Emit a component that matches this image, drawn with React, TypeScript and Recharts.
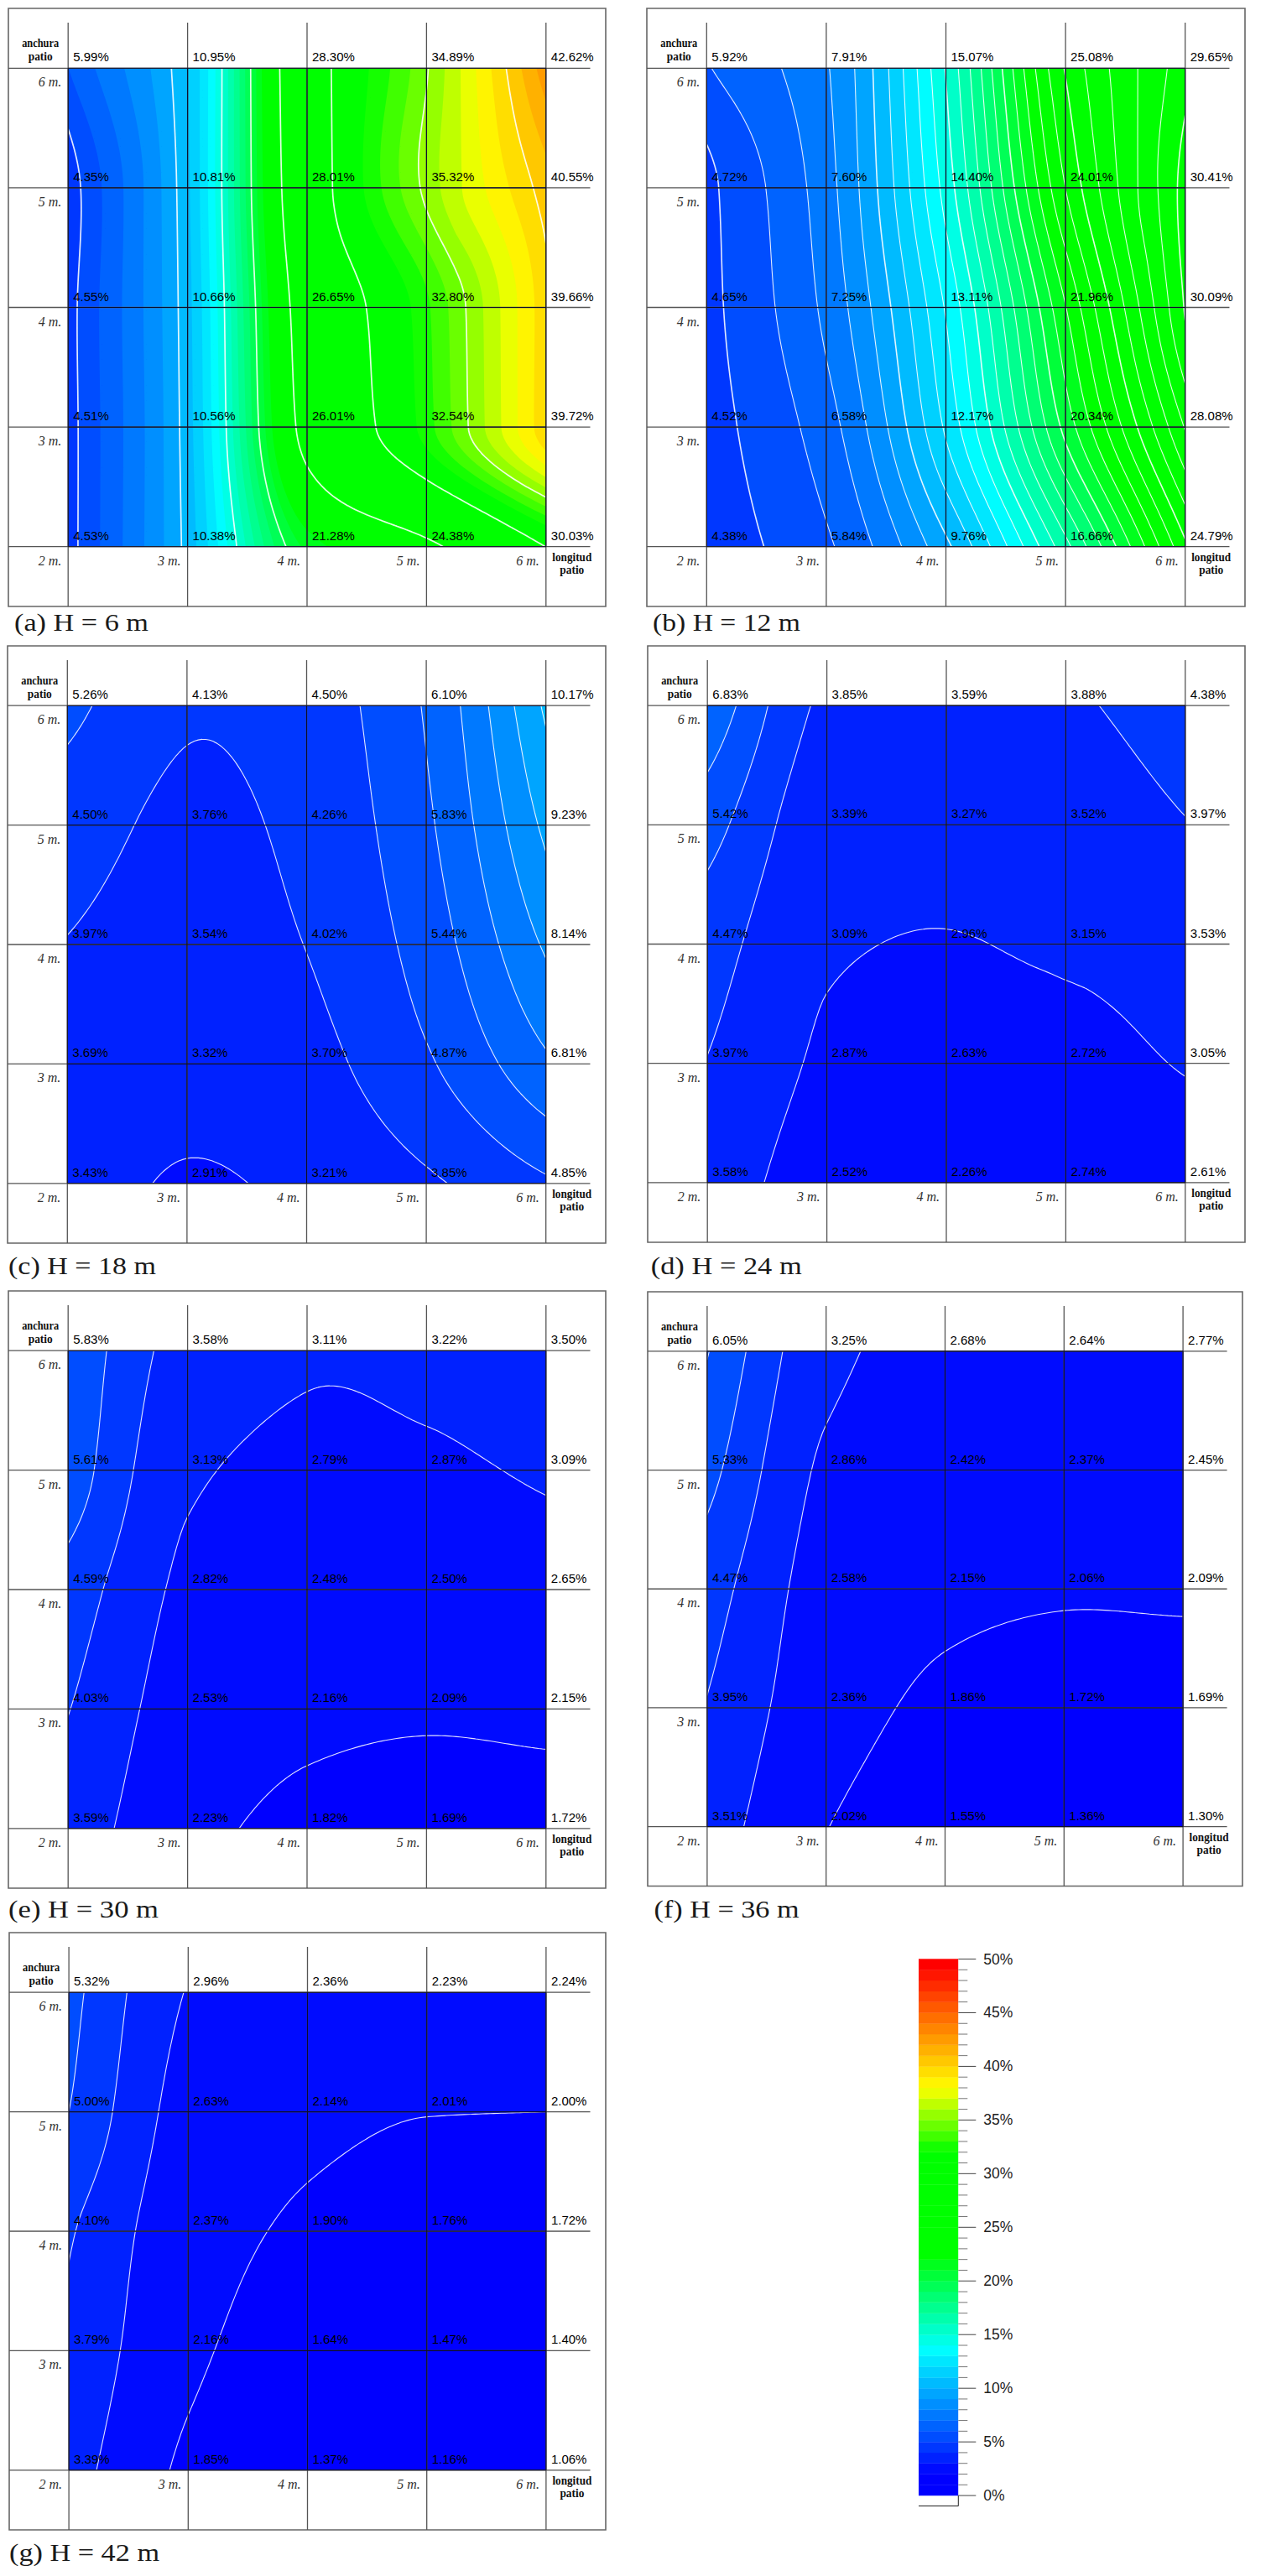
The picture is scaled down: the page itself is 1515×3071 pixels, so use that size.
import { useMemo } from "react";
import {
  Bar,
  BarChart,
  ReferenceArea,
  ReferenceLine,
  Scatter,
  ScatterChart,
  XAxis,
  YAxis,
  useXAxisScale,
  useYAxisScale,
} from "recharts";

// longitud patio (x) and anchura patio (y), in metres
const longitudes = [2, 3, 4, 5, 6];
const anchuras = [6, 5, 4, 3, 2];
const scaleTicks = Array.from({ length: 51 }, (_, i) => i);
const captions = [
  "(a) H = 6 m",
  "(b) H = 12 m",
  "(c) H = 18 m",
  "(d) H = 24 m",
  "(e) H = 30 m",
  "(f) H = 36 m",
  "(g) H = 42 m",
];

// one row per anchura, top row first
const h6 = [
  [5.99, 10.95, 28.3, 34.89, 42.62],
  [4.35, 10.81, 28.01, 35.32, 40.55],
  [4.55, 10.66, 26.65, 32.8, 39.66],
  [4.51, 10.56, 26.01, 32.54, 39.72],
  [4.53, 10.38, 21.28, 24.38, 30.03],
];
const h12 = [
  [5.92, 7.91, 15.07, 25.08, 29.65],
  [4.72, 7.6, 14.4, 24.01, 30.41],
  [4.65, 7.25, 13.11, 21.96, 30.09],
  [4.52, 6.58, 12.17, 20.34, 28.08],
  [4.38, 5.84, 9.76, 16.66, 24.79],
];
const h18 = [
  [5.26, 4.13, 4.5, 6.1, 10.17],
  [4.5, 3.76, 4.26, 5.83, 9.23],
  [3.97, 3.54, 4.02, 5.44, 8.14],
  [3.69, 3.32, 3.7, 4.87, 6.81],
  [3.43, 2.91, 3.21, 3.85, 4.85],
];
const h24 = [
  [6.83, 3.85, 3.59, 3.88, 4.38],
  [5.42, 3.39, 3.27, 3.52, 3.97],
  [4.47, 3.09, 2.96, 3.15, 3.53],
  [3.97, 2.87, 2.63, 2.72, 3.05],
  [3.58, 2.52, 2.26, 2.74, 2.61],
];
const h30 = [
  [5.83, 3.58, 3.11, 3.22, 3.5],
  [5.61, 3.13, 2.79, 2.87, 3.09],
  [4.59, 2.82, 2.48, 2.5, 2.65],
  [4.03, 2.53, 2.16, 2.09, 2.15],
  [3.59, 2.23, 1.82, 1.69, 1.72],
];
const h36 = [
  [6.05, 3.25, 2.68, 2.64, 2.77],
  [5.33, 2.86, 2.42, 2.37, 2.45],
  [4.47, 2.58, 2.15, 2.06, 2.09],
  [3.95, 2.36, 1.86, 1.72, 1.69],
  [3.51, 2.02, 1.55, 1.36, 1.3],
];
const h42 = [
  [5.32, 2.96, 2.36, 2.23, 2.24],
  [5.0, 2.63, 2.14, 2.01, 2.0],
  [4.1, 2.37, 1.9, 1.76, 1.72],
  [3.79, 2.16, 1.64, 1.47, 1.4],
  [3.39, 1.85, 1.37, 1.16, 1.06],
];
const series = [h6, h12, h18, h24, h30, h36, h42];

// page layout of each panel box: left, top, width, height
const boxes = [
  [10, 10, 712, 713],
  [771.4, 10, 713, 713],
  [9, 770, 713, 712],
  [772.4, 770, 712, 711],
  [10, 1539, 712, 712],
  [772.4, 1540, 709, 708.5],
  [10.8, 2304, 711, 712],
];
// caption: left, baseline, width
const captionSpots = [
  [17, 752, 160],
  [778, 752, 176],
  [10, 1519, 176],
  [775.7, 1519, 180],
  [10, 2286, 179],
  [779.5, 2286, 173],
  [11, 3053, 179],
];
const contourSteps = [5, 1, 1, 1, 1, 1, 1];
const majorWidths = [1.7, 1.6, 1.1, 1.1, 1.1, 1.1, 1.1];

const DOMAIN: [number, number] = [1.5, 6.5];
const CHART_PAD = 2;
const SAMPLES = 128;

const colourStops: [number, number[]][] = [
  [0, [0, 0, 255]],
  [2, [0, 0, 255]],
  [13.6, [0, 255, 255]],
  [22.5, [0, 255, 0]],
  [32, [0, 255, 0]],
  [38, [255, 255, 0]],
  [49.5, [255, 0, 0]],
  [50, [255, 0, 0]],
];

function bandColour(band: number) {
  const v = Math.max(0, Math.min(50, band + 0.5));
  let k = 0;
  while (k < colourStops.length - 2 && v > colourStops[k + 1][0]) k += 1;
  const [v0, c0] = colourStops[k];
  const [v1, c1] = colourStops[k + 1];
  const t = (v - v0) / (v1 - v0);
  const rgb = c0.map((c, i) => Math.round(c + (c1[i] - c) * t));
  return `rgb(${rgb.join(",")})`;
}

// slopes for a cubic through evenly spaced values, held back so it barely overshoots the readings
function limitedSlopes(values: number[]) {
  const n = values.length;
  const secant = values.slice(1).map((v, i) => v - values[i]);
  const slopes = new Array(n).fill(0);
  for (let i = 1; i < n - 1; i += 1) {
    const a = secant[i - 1];
    const b = secant[i];
    if (a * b > 0) {
      slopes[i] = (2 * a * b) / (a + b);
    } else {
      const mid = (a + b) / 2;
      slopes[i] = Math.sign(mid) * Math.min(Math.abs(mid), 2 * Math.min(Math.abs(a), Math.abs(b)));
    }
  }
  slopes[0] = secant[0];
  slopes[n - 1] = secant[n - 2];
  return slopes;
}

function curveAt(values: number[], slopes: number[], t: number) {
  const i = Math.min(values.length - 2, Math.floor(t));
  const s = t - i;
  const s2 = s * s;
  const s3 = s2 * s;
  return (
    (2 * s3 - 3 * s2 + 1) * values[i] +
    (s3 - 2 * s2 + s) * slopes[i] +
    (-2 * s3 + 3 * s2) * values[i + 1] +
    (s3 - s2) * slopes[i + 1]
  );
}

// smooth surface through the 25 readings; grid[j][i], j=0 is the top edge
function sampleSurface(rows: number[][]) {
  const rowSlopes = rows.map(limitedSlopes);
  const grid: number[][] = Array.from({ length: SAMPLES + 1 }, () => []);
  for (let i = 0; i <= SAMPLES; i += 1) {
    const t = (4 * i) / SAMPLES;
    const column = rows.map((row, r) => curveAt(row, rowSlopes[r], t));
    const columnSlopes = limitedSlopes(column);
    for (let j = 0; j <= SAMPLES; j += 1) {
      grid[j][i] = curveAt(column, columnSlopes, (4 * j) / SAMPLES);
    }
  }
  return grid;
}

function buildContours(grid: number[][], level: number, px: number[], py: number[]) {
  let fill = "";
  let line = "";
  const p = (x: number, y: number) => `${x.toFixed(2)} ${y.toFixed(2)}`;
  for (let j = 0; j < SAMPLES; j += 1) {
    let runStart = -1;
    const flush = (end: number) => {
      if (runStart < 0) return;
      fill += `M${p(px[runStart], py[j])}L${p(px[end], py[j])}L${p(px[end], py[j + 1])}L${p(px[runStart], py[j + 1])}Z`;
      runStart = -1;
    };
    for (let i = 0; i < SAMPLES; i += 1) {
      const corners = [
        [px[i], py[j], grid[j][i]],
        [px[i + 1], py[j], grid[j][i + 1]],
        [px[i + 1], py[j + 1], grid[j + 1][i + 1]],
        [px[i], py[j + 1], grid[j + 1][i]],
      ];
      const inside = corners.filter((c) => c[2] >= level).length;
      if (inside === 4) {
        if (runStart < 0) runStart = i;
        continue;
      }
      flush(i);
      if (inside === 0) continue;
      const poly: number[][] = [];
      const crossings: number[][] = [];
      corners.forEach((a, k) => {
        const b = corners[(k + 1) % 4];
        if (a[2] >= level) poly.push(a);
        if (a[2] >= level !== b[2] >= level) {
          const t = (level - a[2]) / (b[2] - a[2]);
          const cross = [a[0] + (b[0] - a[0]) * t, a[1] + (b[1] - a[1]) * t];
          poly.push(cross);
          crossings.push(cross);
        }
      });
      fill += `M${poly.map((q) => p(q[0], q[1])).join("L")}Z`;
      for (let k = 0; k + 1 < crossings.length; k += 2) {
        line += `M${p(crossings[k][0], crossings[k][1])}L${p(crossings[k + 1][0], crossings[k + 1][1])}`;
      }
    }
    flush(SAMPLES);
  }
  return { fill, line };
}

function ContourField({ rows, step, majorWidth }: { rows: number[][]; step: number; majorWidth: number }) {
  const xScale = useXAxisScale();
  const yScale = useYAxisScale();
  const ready = Boolean(xScale && yScale);

  const layers = useMemo(() => {
    if (!ready) return null;
    const grid = sampleSurface(rows);
    const px = Array.from({ length: SAMPLES + 1 }, (_, i) => xScale(2 + (4 * i) / SAMPLES));
    const py = Array.from({ length: SAMPLES + 1 }, (_, j) => yScale(6 - (4 * j) / SAMPLES));
    const flat = rows.flat();
    const low = Math.floor(Math.min(...flat)) - 1;
    const high = Math.ceil(Math.max(...flat)) + 1;
    const out = [];
    for (let level = low; level <= high; level += 1) {
      const { fill, line } = buildContours(grid, level, px, py);
      out.push({ level, fill, line });
    }
    return { out, px, py };
  }, [ready, rows]);

  if (!layers) return null;
  const { out, px, py } = layers;

  return (
    <g>
      <rect
        x={px[0]}
        y={py[0]}
        width={px[SAMPLES] - px[0]}
        height={py[SAMPLES] - py[0]}
        fill={bandColour(out[0].level - 1)}
      />
      {out.map((layer) => (
        <path key={layer.level} d={layer.fill} fill={bandColour(layer.level)} />
      ))}
      {out
        .filter((layer) => layer.level % step === 0 && layer.line)
        .map((layer) => (
          <path
            key={layer.level}
            d={layer.line}
            fill="none"
            stroke="#fff"
            strokeLinecap="round"
            strokeOpacity={0.88}
            strokeWidth={layer.level % 5 === 0 ? majorWidth : 1.1}
          />
        ))}
    </g>
  );
}

const axisText = {
  fontFamily: "'Liberation Serif', serif",
  fontStyle: "italic",
  fontSize: 16,
  fill: "#333",
};

function LongitudTick({ x, payload }: any) {
  const yScale = useYAxisScale();
  if (!yScale) return null;
  return (
    <text x={x - 8} y={yScale(2) + 22} textAnchor="end" {...axisText}>
      {payload.value} m.
    </text>
  );
}

function AnchuraTick({ y, payload }: any) {
  const xScale = useXAxisScale();
  if (!xScale) return null;
  return (
    <text x={xScale(2) - 8} y={y + 22} textAnchor="end" {...axisText}>
      {payload.value} m.
    </text>
  );
}

function AxisNames() {
  const xScale = useXAxisScale();
  const yScale = useYAxisScale();
  if (!xScale || !yScale) return null;
  const name = (text: string, x: number, y: number, width: number) => (
    <text
      x={x}
      y={y}
      textAnchor="middle"
      textLength={width}
      lengthAdjust="spacingAndGlyphs"
      fontFamily="'Liberation Serif', serif"
      fontWeight={700}
      fontSize={14}
      fill="#111"
    >
      {text}
    </text>
  );
  return (
    <g>
      {name("anchura", xScale(2) - 33, yScale(6) - 25, 44)}
      {name("patio", xScale(2) - 33, yScale(6) - 9, 29)}
      {name("longitud", xScale(6) + 31, yScale(2) + 17, 47)}
      {name("patio", xScale(6) + 31, yScale(2) + 32, 29)}
    </g>
  );
}

function ReadingLabel({ cx, cy, payload }: any) {
  return (
    <text
      x={cx + 6}
      y={cy - 8}
      fontFamily="'Liberation Sans', Arial, sans-serif"
      fontSize={15}
      fill="#000"
    >
      {payload.value.toFixed(2)}%
    </text>
  );
}

function ContourPanel({
  rows,
  box,
  step,
  majorWidth,
}: {
  rows: number[][];
  box: number[];
  step: number;
  majorWidth: number;
}) {
  const [left, top, width, height] = box;
  const readings = rows.flatMap((row, r) =>
    row.map((value, c) => ({ x: longitudes[c], y: anchuras[r], value })),
  );

  return (
    <div style={{ position: "absolute", left: left - CHART_PAD, top: top - CHART_PAD }}>
      <ScatterChart
        width={width + CHART_PAD * 2}
        height={height + CHART_PAD * 2}
        margin={{ top: CHART_PAD, right: CHART_PAD, bottom: 0, left: 0 }}
      >
        <XAxis
          type="number"
          dataKey="x"
          domain={DOMAIN}
          ticks={longitudes}
          interval={0}
          height={CHART_PAD}
          axisLine={false}
          tickLine={false}
          tick={<LongitudTick />}
        />
        <YAxis
          type="number"
          dataKey="y"
          domain={DOMAIN}
          ticks={[6, 5, 4, 3]}
          interval={0}
          width={CHART_PAD}
          axisLine={false}
          tickLine={false}
          tick={<AnchuraTick />}
        />
        <ContourField rows={rows} step={step} majorWidth={majorWidth} />
        <ReferenceArea x1={1.5} x2={6.5} y1={1.5} y2={6.5} fill="none" stroke="#666" strokeWidth={1.6} />
        {longitudes.map((x) => (
          <ReferenceLine
            key={`outer-x${x}`}
            segment={[{ x, y: 1.5 }, { x, y: 6.38 }]}
            stroke="#555"
            strokeWidth={1.3}
          />
        ))}
        {anchuras.map((y) => (
          <ReferenceLine
            key={`outer-y${y}`}
            segment={[{ x: 1.5, y }, { x: 6.37, y }]}
            stroke="#555"
            strokeWidth={1.3}
          />
        ))}
        {longitudes.map((x) => (
          <ReferenceLine key={`x${x}`} segment={[{ x, y: 2 }, { x, y: 6 }]} stroke="#0d0d2a" strokeWidth={1.1} />
        ))}
        {anchuras.map((y) => (
          <ReferenceLine key={`y${y}`} segment={[{ x: 2, y }, { x: 6, y }]} stroke="#0d0d2a" strokeWidth={1.1} />
        ))}
        <AxisNames />
        <Scatter data={readings} shape={<ReadingLabel />} isAnimationActive={false} />
      </ScatterChart>
    </div>
  );
}

function ScaleTick({ x, y, payload }: any) {
  const major = payload.value % 5 === 0;
  const x0 = x - 8;
  return (
    <g>
      <line x1={x0} x2={x0 + (major ? 21 : 11)} y1={y} y2={y} stroke={major ? "#444" : "#777"} strokeWidth={1} />
      {payload.value === 0 && <line x1={x0} x2={x0} y1={y} y2={y + 12.5} stroke="#222" strokeWidth={1} />}
      {major && (
        <text x={x0 + 30} y={y + 6} fontFamily="'Liberation Sans', Arial, sans-serif" fontSize={17.5} fill="#222">
          {payload.value}%
        </text>
      )}
    </g>
  );
}

function ColourScale() {
  const bands = scaleTicks.slice(0, 50);
  const row: Record<string, number | string> = { name: "escala" };
  bands.forEach((band) => {
    row[`b${band}`] = 1;
  });

  return (
    <div style={{ position: "absolute", left: 1095, top: 2320 }}>
      <BarChart
        width={140}
        height={675}
        data={[row]}
        barCategoryGap={0}
        margin={{ top: 15.5, right: 0, bottom: 7.5, left: 0 }}
      >
        <XAxis dataKey="name" hide />
        <YAxis
          type="number"
          orientation="right"
          domain={[-0.97, 50]}
          ticks={scaleTicks}
          interval={0}
          width={92.7}
          axisLine={false}
          tickLine={false}
          tick={<ScaleTick />}
        />
        {bands.map((band) => (
          <Bar
            key={band}
            dataKey={`b${band}`}
            stackId="scale"
            fill={bandColour(band)}
            stroke={bandColour(band)}
            strokeWidth={0.4}
            isAnimationActive={false}
          />
        ))}
        <ReferenceLine y={-0.97} stroke="#222" strokeWidth={1} />
      </BarChart>
    </div>
  );
}

export default function App() {
  return (
    <div style={{ position: "absolute", left: 0, top: 0, width: 1515, height: 3071, background: "#fff" }}>
      {series.map((rows, i) => (
        <ContourPanel
          key={captions[i]}
          rows={rows}
          box={boxes[i]}
          step={contourSteps[i]}
          majorWidth={majorWidths[i]}
        />
      ))}
      <ColourScale />
      <svg width={1515} height={3071} style={{ position: "absolute", left: 0, top: 0, pointerEvents: "none" }}>
        {captions.map((caption, i) => (
          <text
            key={caption}
            x={captionSpots[i][0]}
            y={captionSpots[i][1]}
            textLength={captionSpots[i][2]}
            lengthAdjust="spacingAndGlyphs"
            fontFamily="'Liberation Serif', serif"
            fontSize={29}
            fill="#1a1a1a"
          >
            {caption}
          </text>
        ))}
      </svg>
    </div>
  );
}
